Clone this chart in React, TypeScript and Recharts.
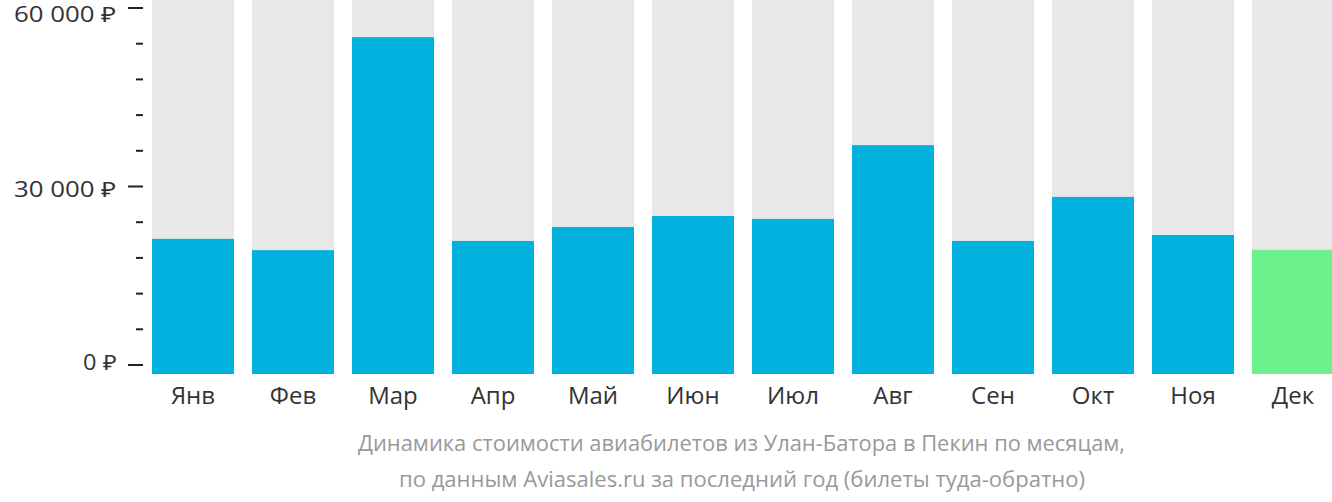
import React from "react";
import { BarChart, Bar, XAxis, YAxis, Cell } from "recharts";

const months = ["Янв", "Фев", "Мар", "Апр", "Май", "Июн", "Июл", "Авг", "Сен", "Окт", "Ноя", "Дек"];
const prices = [21200, 19300, 55100, 20850, 23200, 25050, 24550, 36950, 20850, 28250, 21850, 19350];
const yTicks = [0, 6000, 12000, 18000, 24000, 30000, 36000, 42000, 48000, 54000, 60000];
const majorTicks = [0, 30000, 60000];
const captionLines = [
  "Динамика стоимости авиабилетов из Улан-Батора в Пекин по месяцам,",
  "по данным Aviasales.ru за последний год (билеты туда-обратно)",
];

const data = months.map((m, i) => ({ month: m, price: prices[i] }));

const formatRub = (v: number) =>
  v === 0 ? "0 ₽" : `${Math.round(v / 1000)} 000 ₽`;

const BAR_EXTRA = 9;

const labelBaseline = (v: number) => (v === 60000 ? 14 : v === 30000 ? 10 : 4.5);

const YTick = (props: any) => {
  const { x, y, payload } = props;
  const v = payload.value as number;
  const major = majorTicks.includes(v);
  const label = formatRub(v);
  return (
    <g>
      <line x1={major ? x - 15 : x - 7} x2={x} y1={y} y2={y} stroke="#222" strokeWidth={2} />
      {major && (
        <text
          x={x - 27}
          y={y + labelBaseline(v)}
          textAnchor="end"
          fill="#333"
          fontSize={21}
          fontFamily="'Open Sans', sans-serif"
          textLength={v === 0 ? 33 : 102}
          lengthAdjust="spacingAndGlyphs"
        >
          {label}
        </text>
      )}
    </g>
  );
};

const XTick = (props: any) => {
  const { x, y, payload } = props;
  return (
    <text
      x={x}
      y={y + 39}
      textAnchor="middle"
      fill="#333"
      fontSize={24}
      fontFamily="'Open Sans', sans-serif"
    >
      {payload.value}
    </text>
  );
};

const BarShape = (props: any) => {
  const { x, y, width, height, fill } = props;
  return <rect x={x} y={y} width={width} height={height + BAR_EXTRA} fill={fill} />;
};

const BgShape = (props: any) => {
  const { x, y, width, height } = props;
  return <rect x={x} y={0} width={width} height={y + height + BAR_EXTRA} fill="#e8e8e8" />;
};

export default function App() {
  return (
    <div style={{ position: "absolute", left: 0, top: 0, width: 1332, height: 502, overflow: "hidden", background: "#fff" }}>
      <BarChart
        width={1343}
        height={502}
        data={data}
        margin={{ top: 8, right: 0, bottom: 0, left: 0 }}
        barCategoryGap="9%"
      >
        <YAxis
          type="number"
          domain={[0, 60000]}
          ticks={yTicks}
          interval={0}
          width={143}
          axisLine={false}
          tickLine={false}
          tickSize={0}
          tickMargin={0}
          tick={<YTick />}
        />
        <XAxis
          dataKey="month"
          height={137}
          axisLine={false}
          tickLine={false}
          tickSize={0}
          tickMargin={0}
          interval={0}
          tick={<XTick />}
        />
        <Bar dataKey="price" isAnimationActive={false} background={<BgShape />} shape={<BarShape />}>
          {data.map((d, i) => (
            <Cell key={d.month} fill={i === data.length - 1 ? "#6cf089" : "#02b1dd"} />
          ))}
        </Bar>
      </BarChart>
      <svg width={1332} height={502} style={{ position: "absolute", left: 0, top: 0, pointerEvents: "none" }}>
        <text
          x={741.5}
          y={451}
          textAnchor="middle"
          fill="#999"
          fontSize={21}
          fontFamily="'Open Sans', sans-serif"
          textLength={767}
          lengthAdjust="spacingAndGlyphs"
        >
          {captionLines[0]}
        </text>
        <text
          x={742}
          y={487}
          textAnchor="middle"
          fill="#999"
          fontSize={21}
          fontFamily="'Open Sans', sans-serif"
          textLength={686}
          lengthAdjust="spacingAndGlyphs"
        >
          {captionLines[1]}
        </text>
      </svg>
    </div>
  );
}
